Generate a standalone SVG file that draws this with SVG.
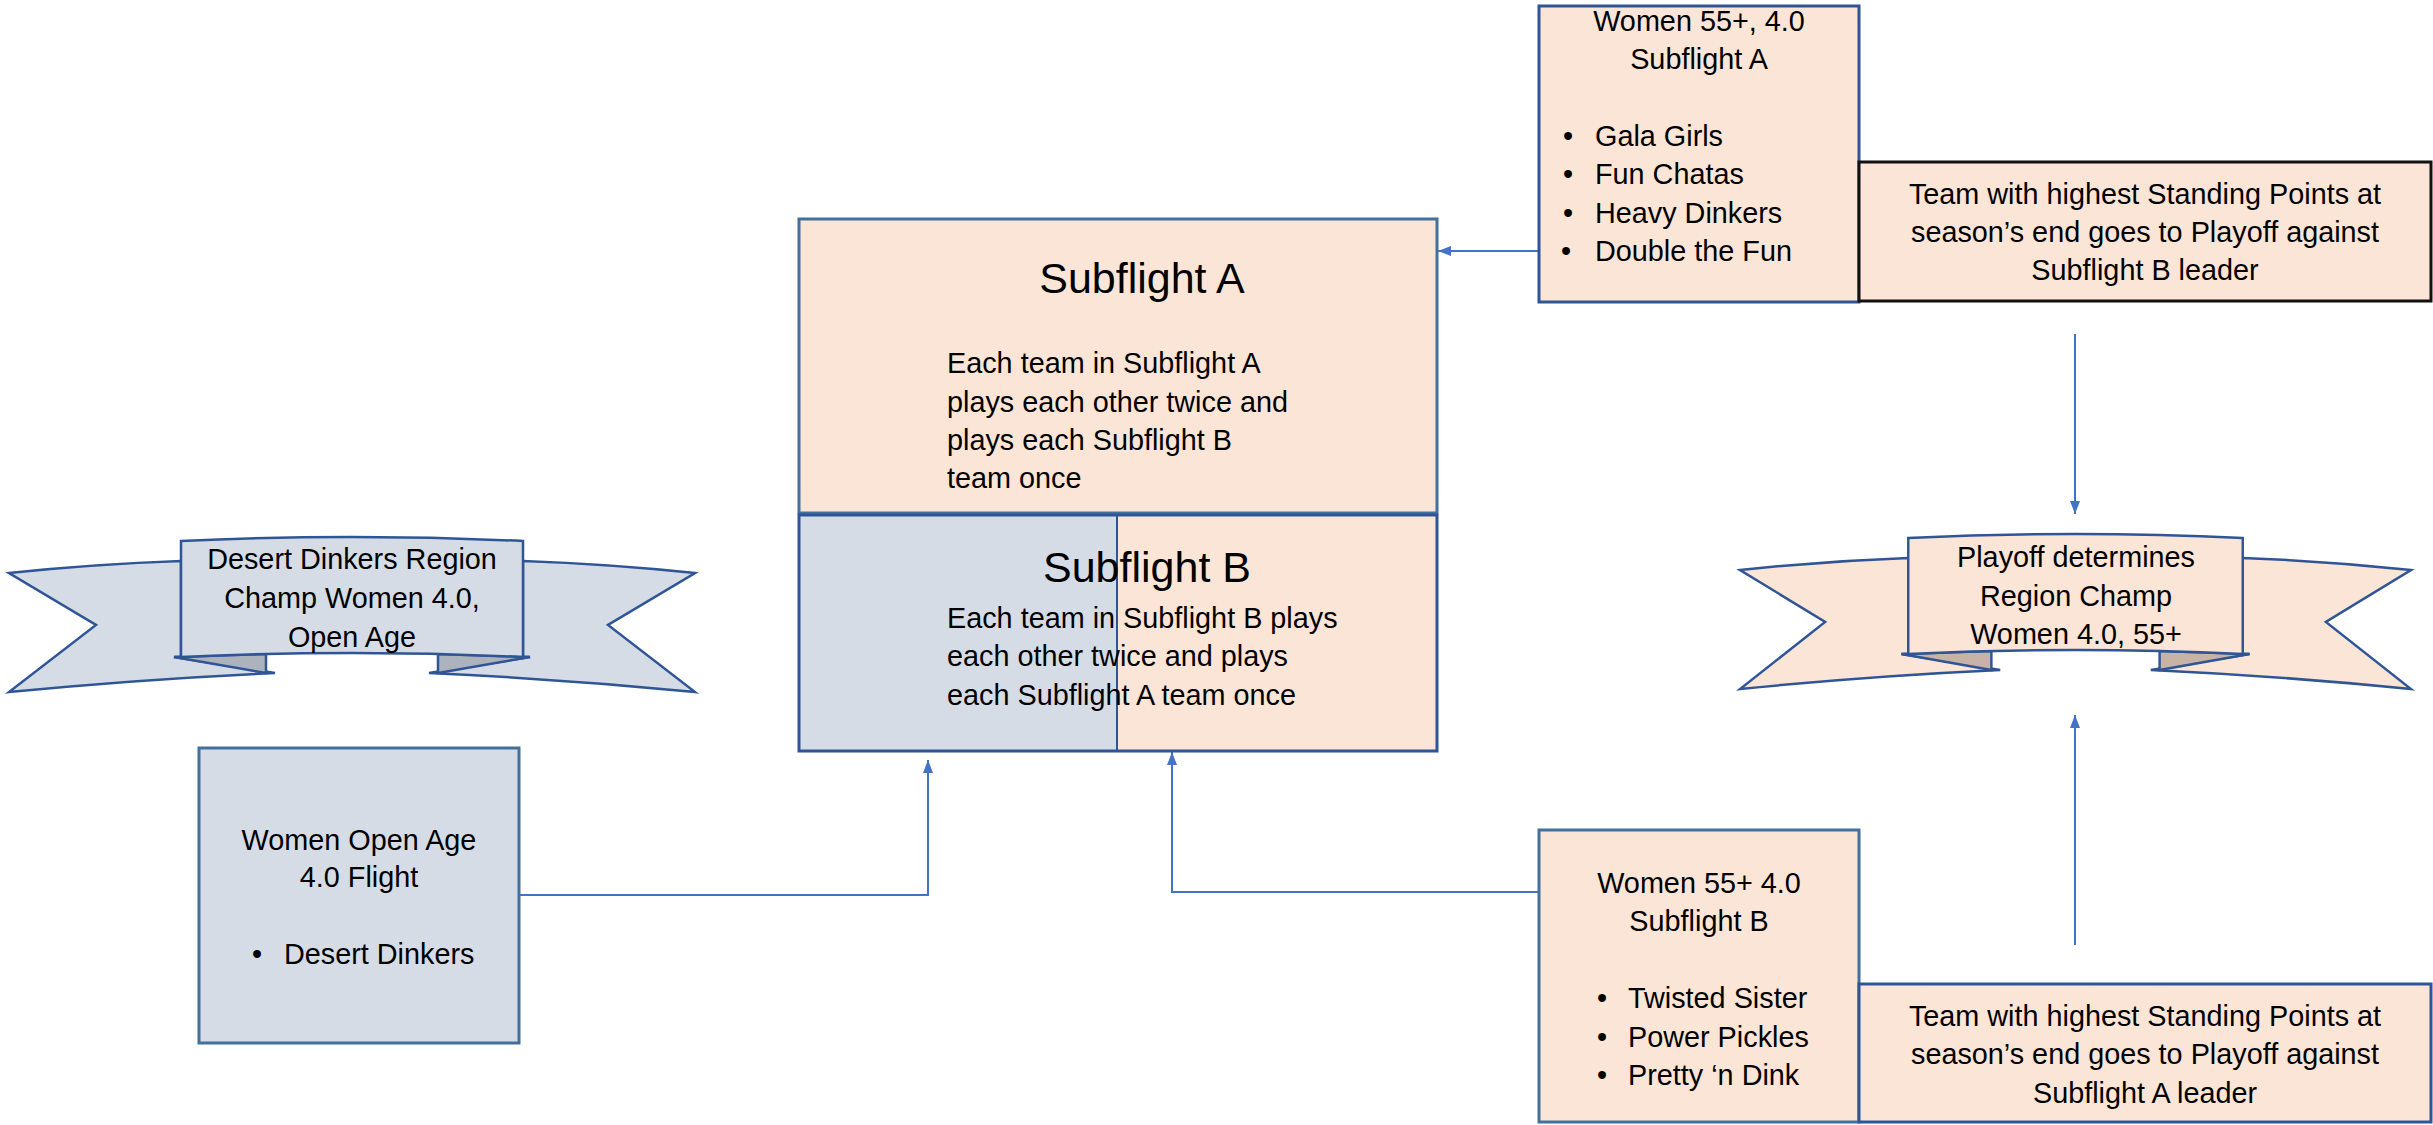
<svg xmlns="http://www.w3.org/2000/svg" width="2433" height="1125" viewBox="0 0 2433 1125">
<style>
.t{font-family:"Liberation Sans",Arial,sans-serif;font-size:28.8px;fill:#000}
.c{text-anchor:middle}
.title{font-size:43px}
.blue{fill:#D6DCE5}
.peach{fill:#FBE5D6}
.rb{stroke:#2F5597;stroke-width:2.5;stroke-linejoin:miter}
.tabb{fill:#ADB3BC}
.tabp{fill:#C7B4A6}
.box1{stroke:#41719C;stroke-width:3}
.box2{stroke:#2F5597;stroke-width:3}
.conn{stroke:#4472C4;stroke-width:2;fill:none}
</style>
<defs>
<marker id="ah" markerWidth="13" markerHeight="10" refX="13" refY="5" orient="auto" markerUnits="userSpaceOnUse">
<path d="M0,0 L13,5 L0,10 Z" fill="#4472C4"/>
</marker>
</defs>

<g id="connectors">
<path class="conn" d="M1539,251 L1438,251" marker-end="url(#ah)"/>
<path class="conn" d="M519,895 L928,895 L928,760" marker-end="url(#ah)"/>
<path class="conn" d="M1539,892 L1172,892 L1172,752" marker-end="url(#ah)"/>
<path class="conn" d="M2075,334 L2075,514" marker-end="url(#ah)"/>
<path class="conn" d="M2075,945 L2075,715" marker-end="url(#ah)"/>
</g>

<g id="ribbon-open">
<g transform="translate(352,541)">
<path class="blue rb" d="M-171,20 Q-257,23 -343,32 L-256,84 L-343,151 Q-210,138 -77,132 L-178,116 L-171,116 Z"/>
<path class="blue rb" d="M171,20 Q257,23 343,32 L256,84 L343,151 Q210,138 77,132 L178,116 L171,116 Z"/>
<path class="tabb rb" d="M-178,116 L-86,113 L-86,132 Z"/>
<path class="tabb rb" d="M178,116 L86,113 L86,132 Z"/>
<path class="blue rb" d="M-171,0 Q0,-8 171,0 L171,116 Q0,108 -171,116 Z"/>
</g>
<text class="t c" x="352" y="569">Desert Dinkers Region</text>
<text class="t c" x="352" y="608">Champ Women 4.0,</text>
<text class="t c" x="352" y="647">Open Age</text>
</g>

<g id="ribbon-55">
<g transform="translate(2075.5,538) scale(0.978,1)">
<path class="peach rb" d="M-171,20 Q-257,23 -343,32 L-256,84 L-343,151 Q-210,138 -77,132 L-178,116 L-171,116 Z"/>
<path class="peach rb" d="M171,20 Q257,23 343,32 L256,84 L343,151 Q210,138 77,132 L178,116 L171,116 Z"/>
<path class="tabp rb" d="M-178,116 L-86,113 L-86,132 Z"/>
<path class="tabp rb" d="M178,116 L86,113 L86,132 Z"/>
<path class="peach rb" d="M-171,0 Q0,-8 171,0 L171,116 Q0,108 -171,116 Z"/>
</g>
<text class="t c" x="2076" y="567">Playoff determines</text>
<text class="t c" x="2076" y="606">Region Champ</text>
<text class="t c" x="2076" y="644">Women 4.0, 55+</text>
</g>

<g id="subflight-a">
<rect class="peach box1" x="799" y="219" width="638" height="294"/>
<text class="t c title" x="1142" y="293">Subflight A</text>
<text class="t" x="947" y="373">Each team in Subflight A</text>
<text class="t" x="947" y="412">plays each other twice and</text>
<text class="t" x="947" y="450">plays each Subflight B</text>
<text class="t" x="947" y="488">team once</text>
</g>

<g id="subflight-b">
<rect class="blue" x="799" y="515" width="318" height="236"/>
<rect class="peach" x="1117" y="515" width="320" height="236"/>
<line x1="1117" y1="515" x2="1117" y2="751" stroke="#2F5597" stroke-width="2"/>
<rect x="799" y="515" width="638" height="236" fill="none" class="box2"/>
<text class="t c title" x="1147" y="582">Subflight B</text>
<text class="t" x="947" y="628">Each team in Subflight B plays</text>
<text class="t" x="947" y="666">each other twice and plays</text>
<text class="t" x="947" y="705">each Subflight A team once</text>
</g>

<g id="women-open">
<rect class="blue box1" x="199" y="748" width="320" height="295"/>
<text class="t c" x="359" y="850">Women Open Age</text>
<text class="t c" x="359" y="887">4.0 Flight</text>
<text class="t c" x="257" y="964">•</text>
<text class="t" x="284" y="964">Desert Dinkers</text>
</g>

<g id="women55-a">
<rect class="peach box2" x="1539" y="6" width="320" height="296"/>
<text class="t c" x="1699" y="31">Women 55+, 4.0</text>
<text class="t c" x="1699" y="69">Subflight A</text>
<text class="t c" x="1568" y="146">•</text>
<text class="t" x="1595" y="146">Gala Girls</text>
<text class="t c" x="1568" y="184">•</text>
<text class="t" x="1595" y="184">Fun Chatas</text>
<text class="t c" x="1568" y="223">•</text>
<text class="t" x="1595" y="223">Heavy Dinkers</text>
<text class="t c" x="1566" y="261">•</text>
<text class="t" x="1595" y="261">Double the Fun</text>
</g>

<g id="team-a">
<rect class="peach" x="1859" y="162" width="572" height="139" stroke="#111" stroke-width="3"/>
<text class="t c" x="2145" y="204">Team with highest Standing Points at</text>
<text class="t c" x="2145" y="242">season’s end goes to Playoff against</text>
<text class="t c" x="2145" y="280">Subflight B leader</text>
</g>

<g id="women55-b">
<rect class="peach box1" x="1539" y="830" width="320" height="292"/>
<text class="t c" x="1699" y="893">Women 55+ 4.0</text>
<text class="t c" x="1699" y="931">Subflight B</text>
<text class="t c" x="1602" y="1008">•</text>
<text class="t" x="1628" y="1008">Twisted Sister</text>
<text class="t c" x="1602" y="1047">•</text>
<text class="t" x="1628" y="1047">Power Pickles</text>
<text class="t c" x="1602" y="1085">•</text>
<text class="t" x="1628" y="1085">Pretty ‘n Dink</text>
</g>

<g id="team-b">
<rect class="peach box2" x="1859" y="984" width="572" height="138"/>
<text class="t c" x="2145" y="1026">Team with highest Standing Points at</text>
<text class="t c" x="2145" y="1064">season’s end goes to Playoff against</text>
<text class="t c" x="2145" y="1103">Subflight A leader</text>
</g>
</svg>
